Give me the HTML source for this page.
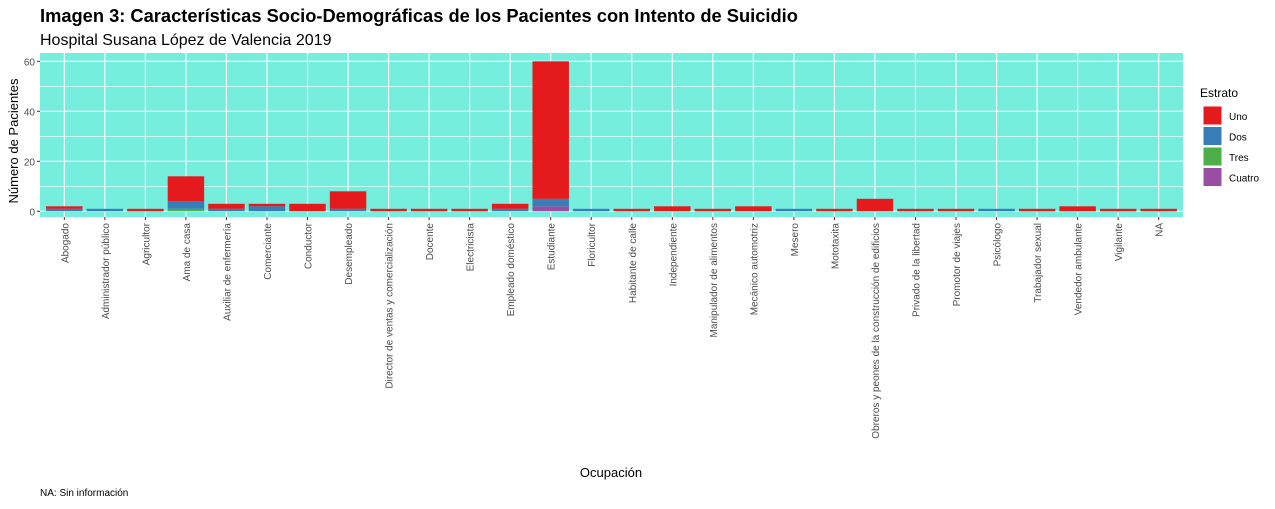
<!DOCTYPE html>
<html><head><meta charset="utf-8"><style>
body{margin:0;background:#fff;font-family:"Liberation Sans",sans-serif}
svg text{font-family:"Liberation Sans",sans-serif}
</style></head><body>
<svg id="c" width="1275" height="504" xmlns="http://www.w3.org/2000/svg">
<text x="40" y="22" font-size="18.3" font-weight="bold" fill="#000">Imagen 3: Características Socio-Demográficas de los Pacientes con Intento de Suicidio</text>
<text x="40" y="45" font-size="16" fill="#000">Hospital Susana López de Valencia 2019</text>
<rect x="40" y="53" width="1143" height="164" fill="#76EEDD"/>
<g id="grid"></g><g id="bars"></g><g id="axes"></g>
<text transform="translate(18,141) rotate(-90)" text-anchor="middle" font-size="13" fill="#000">Número de Pacientes</text>
<text x="611" y="477" text-anchor="middle" font-size="13" fill="#000">Ocupación</text>
<text x="40" y="496" font-size="10" fill="#000">NA: Sin información</text>
<g>
<text x="1200" y="97" font-size="12" fill="#000">Estrato</text>
<g id="legend"></g>
</g>
</svg>
<script>
const categories=["Abogado","Administrador público","Agricultor","Ama de casa","Auxiliar de enfermería","Comerciante","Conductor","Desempleado","Director de ventas y comercialización","Docente","Electricista","Empleado doméstico","Estudiante","Floricultor","Habitante de calle","Independiente","Manipulador de alimentos","Mecánico automotriz","Mesero","Mototaxita","Obreros y peones de la construcción de edificios","Privado de la libertad","Promotor de viajes","Psicólogo","Trabajador sexual","Vendedor ambulante","Vigilante","NA"];
const uno=[1,0,1,10,2,1,3,7,1,1,1,2,55,0,1,2,1,2,0,1,5,1,1,0,1,2,1,1];
const dos=[1,1,0,3,1,2,0,1,0,0,0,1,3,1,0,0,0,0,1,0,0,0,0,1,0,0,0,0];
const tres=[0,0,0,1,0,0,0,0,0,0,0,0,0,0,0,0,0,0,0,0,0,0,0,0,0,0,0,0];
const cuatro=[0,0,0,0,0,0,0,0,0,0,0,0,2,0,0,0,0,0,0,0,0,0,0,0,0,0,0,0];
const yTicks=[0,20,40,60];
const seriesNames=["Uno","Dos","Tres","Cuatro"];
const colors=["#E41A1C","#377EB8","#4DAF4A","#984EA3"];
const NS="http://www.w3.org/2000/svg";
const L=40,R=1183,T=53,B=217;
const n=categories.length, step=(R-L)/(n+0.2);
const xS=i=>L+step*(0.6+i);
const y0=211.3, ppu=(211.3-61.3)/60;
const yS=v=>y0-v*ppu;
function mk(t,a,p){const e=document.createElementNS(NS,t);for(const k in a)e.setAttribute(k,a[k]);p.appendChild(e);return e;}
const grid=document.getElementById('grid'),bars=document.getElementById('bars'),axes=document.getElementById('axes');
for(let i=0;i<yTicks.length;i++){
 const v=yTicks[i];
 const g=mk('line',{x1:L,x2:R,y1:yS(v),y2:yS(v),stroke:'#fff','stroke-width':1.1},grid);
 
 
 if(i<yTicks.length-1){const m=mk('line',{x1:L,x2:R,y1:yS(v+10),y2:yS(v+10),stroke:'#fff','stroke-width':0.55},grid);
 
 }
 const t=mk('text',{x:L-5,y:yS(v)+4,'text-anchor':'end','font-size':10,fill:'#4d4d4d'},axes);t.textContent=v;
 
 
 mk('line',{x1:L-3,x2:L,y1:yS(v),y2:yS(v),stroke:'#333'},axes);
}
const series=[tres,cuatro,dos,uno];const sc=[colors[2],colors[3],colors[1],colors[0]];
for(let i=0;i<n;i++){
 const x=xS(i);
 const g=mk('line',{x1:x,x2:x,y1:T,y2:B,stroke:'#fff','stroke-width':1.1},grid);
 
 
 let base=0;const w=step*0.9;
 for(let s=0;s<4;s++){const v=series[s][i];if(!v)continue;
  const r=mk('rect',{x:x-w/2,y:yS(base+v),width:w,height:yS(base)-yS(base+v),fill:sc[s]},bars);
  
  
  base+=v;}
 mk('line',{x1:x,x2:x,y1:B,y2:B+3,stroke:'#333'},axes);
 const t=mk('text',{transform:`translate(${x+4},${B+6}) rotate(-90)`,'text-anchor':'end','font-size':10,fill:'#4d4d4d'},axes);t.textContent=categories[i];
 
 
}
const lg=document.getElementById('legend');
for(let k=0;k<4;k++){
 const y=106+k*20.5;
 const r=mk('rect',{x:1203,y:y,width:19,height:19,fill:colors[k],stroke:'#fff'},lg);
 
 
 const t=mk('text',{x:1229,y:y+14,'font-size':10,fill:'#000'},lg);t.textContent=seriesNames[k];
 
 
}
</script>
</body></html>
